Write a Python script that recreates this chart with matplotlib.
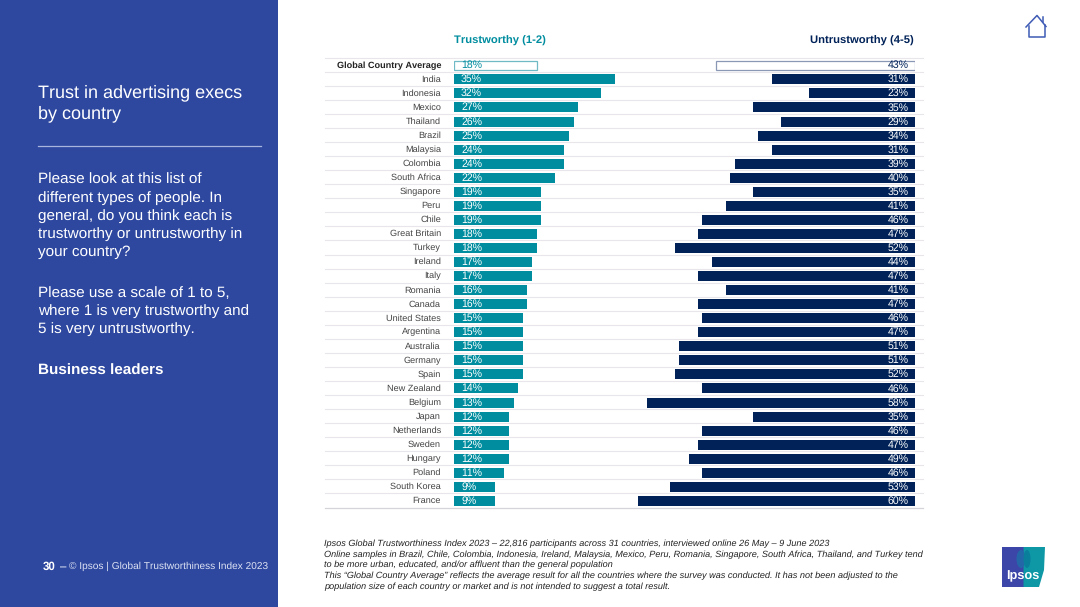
"""Trust in advertising execs by country: Ipsos slide with diverging bars."""
import matplotlib
matplotlib.use("Agg")
import matplotlib.pyplot as plt
from matplotlib.patches import Rectangle, Polygon, Ellipse

plt.rcParams["font.family"] = ["Liberation Sans", "DejaVu Sans"]
plt.rcParams["text.hinting"] = "no_hinting"
plt.rcParams["text.kerning_factor"] = 6

# ---- Data ---------------------------------------------------------------
COUNTRIES = [
    "Global Country Average", "India", "Indonesia", "Mexico", "Thailand",
    "Brazil", "Malaysia", "Colombia", "South Africa", "Singapore", "Peru",
    "Chile", "Great Britain", "Turkey", "Ireland", "Italy", "Romania",
    "Canada", "United States", "Argentina", "Australia", "Germany", "Spain",
    "New Zealand", "Belgium", "Japan", "Netherlands", "Sweden", "Hungary",
    "Poland", "South Korea", "France",
]
TRUSTWORTHY = [18, 35, 32, 27, 26, 25, 24, 24, 22, 19, 19, 19, 18, 18, 17, 17,
               16, 16, 15, 15, 15, 15, 15, 14, 13, 12, 12, 12, 12, 11, 9, 9]
UNTRUSTWORTHY = [43, 31, 23, 35, 29, 34, 31, 39, 40, 35, 41, 46, 47, 52, 44, 47,
                 41, 47, 46, 47, 51, 51, 52, 46, 58, 35, 46, 47, 49, 46, 53, 60]

FOOTNOTES = [
    "Ipsos Global Trustworthiness Index 2023 \u2013 22,816 participants across 31 countries, interviewed online 26 May \u2013 9 June 2023",
    "Online samples in Brazil, Chile, Colombia, Indonesia, Ireland, Malaysia, Mexico, Peru, Romania, Singapore, South Africa, Thailand, and Turkey tend",
    "to be more urban, educated, and/or affluent than the general population",
    "This \u201cGlobal Country Average\u201d reflects the average result for all the countries where the survey was conducted. It has not been adjusted to the",
    "population size of each country or market and is not intended to suggest a total result.",
]

# ---- Style --------------------------------------------------------------
W, H = 1080, 607
BLUE = "#2E48A0"
TEAL = "#008D9F"
NAVY = "#002258"
PX_PER_PCT = 4.62
ROW_TOP, ROW_STEP = 65.3, 14.05
BAR_H = 10.0

fig = plt.figure(figsize=(W / 100, H / 100), dpi=100, facecolor="white")

# page layer, in pixels from the top-left corner
page = fig.add_axes([0, 0, 1, 1])
page.set_xlim(0, W)
page.set_ylim(H, 0)
page.axis("off")


def bar_axes(x0, x1):
    ax = fig.add_axes([x0 / W, 0, (x1 - x0) / W, 1])
    ax.set_ylim(H, 0)
    ax.axis("off")
    ax.patch.set_alpha(0)
    return ax


# ---- Left panel ---------------------------------------------------------
page.add_patch(Rectangle((0, 0), 278, H, color=BLUE, lw=0))
page.text(38.5, 103, "Trust in advertising execs\nby country", color="white",
          fontsize=13.0, va="center", linespacing=1.36)
page.plot([38, 261], [146, 146], color="#A9B5DC", lw=0.9)
page.text(38.5, 216,
          "Please look at this list of\ndifferent types of people. In\n"
          "general, do you think each is\ntrustworthy or untrustworthy in\n"
          "your country?",
          color="white", fontsize=11.0, va="center", linespacing=1.36)
page.text(38.5, 311.5,
          "Please use a scale of 1 to 5,\nwhere 1 is very trustworthy and\n"
          "5 is very untrustworthy.",
          color="white", fontsize=11.0, va="center", linespacing=1.36)
page.text(38.5, 371, "Business leaders", color="white", fontsize=11.0,
          fontweight="bold", va="center")
page.text(43, 566.5, "30", color="white", fontsize=8.3, fontweight="bold", va="center")
page.text(59.5, 566.5, "\u2013", color="white", fontsize=8.3, va="center")
page.text(69, 566.5, "\u00a9 Ipsos | Global Trustworthiness Index 2023",
          color="#DDE2F2", fontsize=7.3, va="center")

# ---- Table rows ---------------------------------------------------------
rows = [ROW_TOP + i * ROW_STEP for i in range(len(COUNTRIES))]
for y in rows:
    page.plot([325, 923], [y - 7.5] * 2, color="#E8E6EA", lw=0.8)
page.plot([325, 923], [rows[-1] + 7.5] * 2, color="#D4D4DA", lw=0.9)

page.text(453.5, 40.5, "Trustworthy (1-2)", color=TEAL, fontsize=8.1,
          fontweight="bold", va="center")
page.text(914, 40.5, "Untrustworthy (4-5)", color=NAVY, fontsize=8.1,
          fontweight="bold", va="center", ha="right")

for i, (name, y) in enumerate(zip(COUNTRIES, rows)):
    page.text(441, y, name, ha="right", va="center", fontsize=6.6,
              color="#222222" if i == 0 else "#444444",
              fontweight="bold" if i == 0 else "normal")

# ---- Bars ---------------------------------------------------------------
ax_l = bar_axes(453.5, 453.5 + 45 * PX_PER_PCT)
ax_l.set_xlim(0, 45)
ax_r = bar_axes(915 - 70 * PX_PER_PCT, 915)
ax_r.set_xlim(70, 0)

ax_l.barh(rows[1:], TRUSTWORTHY[1:], height=BAR_H, color=TEAL, lw=0)
ax_r.barh(rows[1:], UNTRUSTWORTHY[1:], height=BAR_H, color=NAVY, lw=0)
ax_l.barh(rows[:1], TRUSTWORTHY[:1], height=BAR_H - 0.8, facecolor="white",
          edgecolor="#6FBAC4", lw=0.9)
ax_r.barh(rows[:1], UNTRUSTWORTHY[:1], height=BAR_H - 0.8, facecolor="white",
          edgecolor="#8A97B5", lw=0.9)

for i, y in enumerate(rows):
    ax_l.text(7.5 / PX_PER_PCT, y + 0.1, f"{TRUSTWORTHY[i]}%", va="center", fontsize=7.6,
              color=TEAL if i == 0 else "white")
    ax_r.text(6 / PX_PER_PCT, y + 0.1, f"{UNTRUSTWORTHY[i]}%", va="center", ha="right",
              fontsize=7.6, color=NAVY if i == 0 else "white")

# ---- Footnotes ----------------------------------------------------------
for line, y in zip(FOOTNOTES, [543.5, 554.5, 565, 576, 587]):
    page.text(324.5, y, line, fontsize=6.55, style="italic", color="#222222", va="center")

# ---- Home icon and logo -------------------------------------------------
page.plot([1026, 1037, 1046], [27, 15.5, 26.5], color="#3F5BB5", lw=1.1)
page.plot([1029, 1029, 1045, 1045], [26, 37, 37, 25], color="#3F5BB5", lw=1.1)
page.plot([1042.5, 1042.5], [17, 22], color="#3F5BB5", lw=1.1)

page.add_patch(Rectangle((1001.5, 547), 22, 40, color="#3C46A8", lw=0))
page.add_patch(Polygon([(1023.5, 547), (1045, 547), (1044, 570), (1039, 587), (1023.5, 587)],
                       color="#0E97A5", lw=0))
page.add_patch(Ellipse((1021, 559), 9, 18, color="#2467A8", lw=0))
page.add_patch(Ellipse((1027, 559), 7, 18, color="#0A7F9C", lw=0))
page.text(1022.5, 576, "Ipsos", color="white", fontsize=9.2, fontweight="bold",
          ha="center", va="center")

fig.savefig("out.png", dpi=100)
